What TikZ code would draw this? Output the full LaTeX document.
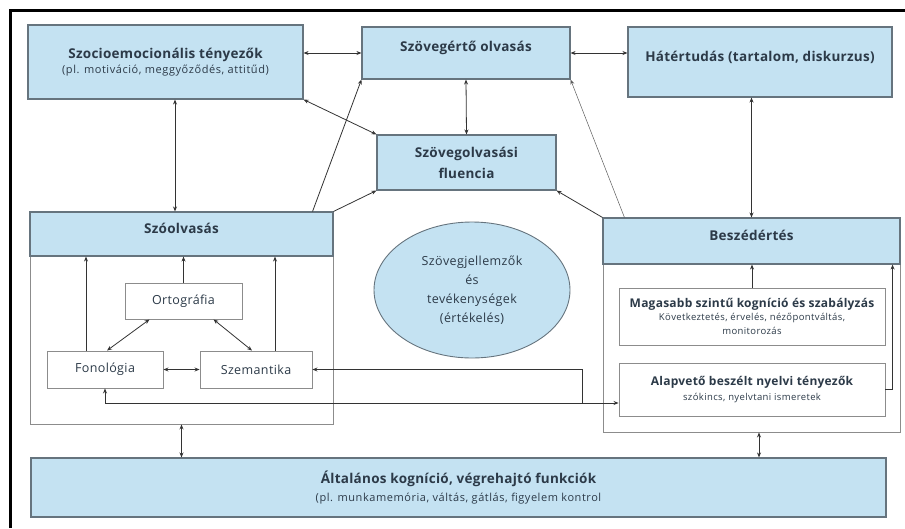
\documentclass[tikz,border=0pt]{standalone}
\usepackage{fontspec}
\setmainfont{Open Sans}
\usetikzlibrary{arrows.meta,shapes.geometric}

\definecolor{boxblue}{HTML}{C4E2F2}
\definecolor{boxline}{HTML}{66747E}
\definecolor{txtdark}{HTML}{2C3A48}
\definecolor{arrowgray}{HTML}{333333}
\definecolor{grpline}{HTML}{8C8C8C}

\newcommand{\ttlfont}{\fontsize{13.5}{16}\selectfont\bfseries\addfontfeatures{LetterSpace=2}}
\newcommand{\midfont}{\fontsize{12}{15}\selectfont\bfseries\addfontfeatures{LetterSpace=2}}
\newcommand{\subfont}{\fontsize{11}{15}\selectfont\mdseries\addfontfeatures{LetterSpace=5}}
\newcommand{\smlfont}{\fontsize{9.5}{13}\selectfont\mdseries\addfontfeatures{LetterSpace=4}}
\newcommand{\regfont}{\fontsize{12.5}{19}\selectfont\addfontfeatures{LetterSpace=3}}

\tikzset{
  bluebox/.style={draw=boxline, fill=boxblue, line width=1.1pt, text=txtdark, align=center, inner sep=0pt},
  grpbox/.style={draw=grpline, line width=0.9pt, inner sep=0pt},
  whitebox/.style={draw=grpline, fill=white, line width=0.9pt, text=txtdark, align=center, inner sep=0pt},
  conn/.style={draw=arrowgray, line width=0.8pt},
  dbl/.style={conn, {Stealth[length=5pt,width=4pt]}-{Stealth[length=5pt,width=4pt]}},
  one/.style={conn, -{Stealth[length=5pt,width=4pt]}},
  thinone/.style={draw=arrowgray!80, line width=0.5pt, -{Stealth[length=5pt,width=4pt]}},
}

\begin{document}
\begin{tikzpicture}[x=1pt, y=-1pt]
  \useasboundingbox (0,0) rectangle (905,528);
  % keret
  \draw[line width=3pt] (10,528) -- (10,10) -- (905,10);

  % felso sor
  \node[bluebox, minimum width=275, minimum height=74, font=\ttlfont] (szocio) at (165.5,62)
    {Szocioemocionális tényezők\\[-1pt]{\subfont (pl. motiváció, meggyőződés, attitűd)}};
  \node[bluebox, minimum width=208, minimum height=52, font=\ttlfont, text depth=14pt] (szovert) at (466,53) {Szövegértő olvasás};
  \node[bluebox, minimum width=264, minimum height=70, font=\ttlfont, text depth=12pt] (hatter) at (760,62) {Hátértudás (tartalom, diskurzus)};
  \node[bluebox, minimum width=179, minimum height=55, font=\ttlfont] (fluen) at (466.5,162.5)
    {Szövegolvasási\\[5pt]fluencia};

  % szoolvasas
  \node[grpbox, minimum width=303, minimum height=212] (szogrp) at (181.5,318) {};
  \node[bluebox, minimum width=303, minimum height=44, font=\ttlfont, text depth=12pt] (szo) at (181.5,234) {Szóolvasás};
  \node[whitebox, minimum width=117, minimum height=36, font=\regfont] (orto) at (183.5,301) {Ortográfia};
  \node[whitebox, minimum width=116, minimum height=37, font=\regfont] (fono) at (105,369.5) {Fonológia};
  \node[whitebox, minimum width=112, minimum height=37, font=\regfont] (szem) at (256,369.5) {Szemantika};

  % ellipszis
  \node[ellipse, draw=boxline, fill=boxblue, line width=0.9pt, text=txtdark, align=center,
    minimum width=196, minimum height=136, inner sep=0pt, font=\regfont] (jell) at (472,290)
    {Szövegjellemzők\\és\\tevékenységek\\(értékelés)};

  % beszedertes
  \node[grpbox, minimum width=297, minimum height=214] (beszgrp) at (751.5,325) {};
  \node[bluebox, minimum width=297, minimum height=46, font=\ttlfont, text depth=12pt] (besz) at (751.5,241) {Beszédértés};
  \node[whitebox, minimum width=266, minimum height=57, font=\midfont] (magas) at (752,316.5)
    {Magasabb szintű kogníció és szabályzás\\[-2pt]{\smlfont Következtetés, érvelés, nézőpontváltás,}\\[-1pt]{\smlfont monitorozás}};
  \node[whitebox, minimum width=266, minimum height=53, font=\midfont] (alap) at (752,389.5)
    {Alapvető beszélt nyelvi tényezők\\{\smlfont szókincs, nyelvtani ismeretek}};

  % also sor
  \node[bluebox, minimum width=855, minimum height=59, font=\ttlfont] (altal) at (458.5,487.5)
    {Általános kogníció, végrehajtó funkciók\\[2pt]{\subfont (pl. munkamemória, váltás, gátlás, figyelem kontrol}};

  % nyilak
  \draw[dbl] (szocio.east |- szovert.west) -- (szovert.west);
  \draw[dbl] (szovert.east) -- (szovert.east -| hatter.west);
  \draw[dbl] (szovert.south) -- (fluen.north);
  \draw[dbl] (szocio.south east) -- (fluen.north west);
  \draw[dbl] ([xshift=9.5]szocio.south) -- ([xshift=9.5]szocio.south |- szo.north);
  \draw[one] ([xshift=-21]szo.north east) -- (szovert.south west);
  \draw[one] (szo.north east) -- (fluen.south west);
  \draw[one] (besz.north west) -- (fluen.south east);
  \draw[thinone] ([xshift=22]besz.north west) -- (szovert.south east);
  \draw[dbl] (besz.north |- hatter.south) -- (besz.north);

  \draw[one] ([xshift=-19]fono.north) -- ([xshift=-19]fono.north |- szo.south);
  \draw[one] (orto.north) -- (orto.north |- szo.south);
  \draw[one] ([xshift=19]szem.north) -- ([xshift=19]szem.north |- szo.south);
  \draw[dbl] ([xshift=-34]orto.south) -- ([xshift=2]fono.north);
  \draw[dbl] ([xshift=30]orto.south) -- ([xshift=-4]szem.north);
  \draw[dbl] (fono.east) -- (szem.west);

  \draw[dbl] (fono.south) |- ([yshift=-13.5]alap.west);
  \coordinate (elag) at (582,403);
  \draw[one] (elag) |- (szem.east);

  \draw[one] (magas.north) -- (magas.north |- besz.south);
  \draw[one] (alap.east) -| ([xshift=-8]besz.south east);
  \draw[dbl] (szogrp.south) -- (szogrp.south |- altal.north);
  \draw[dbl] ([xshift=7.5]beszgrp.south) -- ([xshift=7.5]beszgrp.south |- altal.north);
\end{tikzpicture}
\end{document}
